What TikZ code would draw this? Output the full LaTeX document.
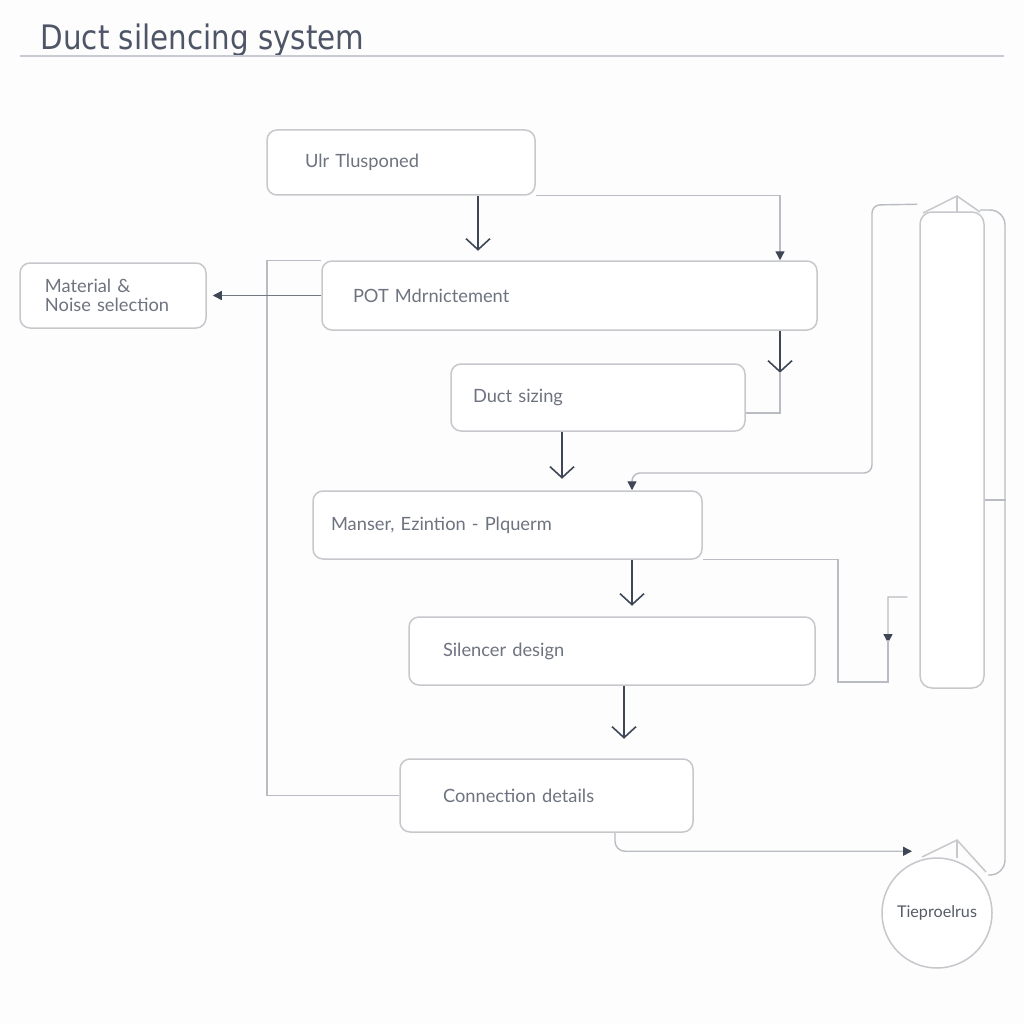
\documentclass[tikz,border=0pt]{standalone}
\usepackage{fontspec}
\setmainfont{Lato}
\newfontfamily\titlefont[FakeStretch=0.87]{DejaVu Sans}
\usetikzlibrary{arrows.meta}
\definecolor{boxc}{HTML}{C6C8CC}
\definecolor{linec}{HTML}{B9BCC2}
\definecolor{arrc}{HTML}{3F4756}
\definecolor{midc}{HTML}{737884}
\definecolor{txtc}{HTML}{6E7380}
\definecolor{titc}{HTML}{4D5566}
\definecolor{rulec}{HTML}{C8CCD2}
\definecolor{bgc}{HTML}{FDFDFD}
\begin{document}
\begin{tikzpicture}[x=0.1mm,y=-0.1mm,
  box/.style={draw=boxc, line width=0.15mm, rounded corners=1mm, fill=white,
    align=left, font=\fontsize{5.2}{5.6}\selectfont, text=txtc, inner ysep=0pt},
  line/.style={draw=linec, line width=0.14mm},
  darr/.style={draw=arrc, line width=0.16mm, -{Straight Barb[length=1.1mm,width=2.4mm]}},
  tipd/.style={-{Triangle[length=0.9mm,width=0.9mm,color=arrc]}},
  capline/.style={draw=boxc, line width=0.15mm}
]
\fill[bgc] (0,0) rectangle (1024,1024);
\useasboundingbox (0,0) rectangle (1024,1024);

% title
\node[anchor=base west, font=\titlefont\fontsize{9.6}{11}\selectfont, text=titc, inner sep=0pt] (title) at (40,50) {Duct silencing system};
\draw[draw=rulec, line width=0.2mm] (20,56) -- (1004,56);

% boxes
\node[box, text width=19.2mm, inner xsep=3.8mm, minimum height=6.5mm] (A) at (401,162.5) {Ulr Tlusponed};
\node[box, text width=43.3mm, inner xsep=3.1mm, minimum height=6.9mm] (B) at (569.5,295.5) {POT Mdrnictement};
\node[box, text width=13.6mm, inner xsep=2.5mm, minimum height=6.5mm] (C) at (113,295.5) {Material \&\\Noise selection};
\node[box, text width=25.0mm, inner xsep=2.2mm, minimum height=6.7mm] (D) at (598,397.5) {Duct sizing};
\node[box, text width=35.3mm, inner xsep=1.8mm, minimum height=6.8mm] (E) at (507.5,525) {Manser, Ezintion - Plquerm};
\node[box, text width=33.8mm, inner xsep=3.4mm, minimum height=6.8mm] (F) at (612,651) {Silencer design};
\node[box, text width=20.7mm, inner xsep=4.3mm, minimum height=7.3mm] (G) at (546.5,795.5) {Connection details};

% column
\node[draw=boxc, line width=0.15mm, rounded corners=1.2mm, minimum width=6.4mm, minimum height=47.6mm, inner sep=0pt, fill=white] (col) at (952,450) {};
\coordinate (colapex) at (957,196);
\draw[capline] (923,213) -- (colapex) -- (980,212);
\draw[capline] (colapex) -- (957,213);

% circle
\node[circle, draw=boxc, line width=0.15mm, minimum size=11mm, inner sep=0pt, fill=white,
  font=\fontsize{4.6}{5.5}\selectfont, text=txtc!80!black] (circ) at (937,913) {Tieproelrus};
\coordinate (circapex) at (957,840);
\draw[capline] (922,857) -- (circapex) -- (986,872);
\draw[capline] (circapex) -- (957,858);

% helper x positions
\coordinate (lx) at (267,0);
\coordinate (rx) at (780,0);

% connectors
\draw[darr] ([xshift=7.7mm]A.south) -- ++(0,55);
\draw[line, tipd] (A.south east) -| ([xshift=21.05mm]B.north);
\draw[line] (G.west) -- (G.west -| lx) -- (lx |- B.north west) -- (B.north west);
\draw[draw=midc, line width=0.14mm, tipd, shorten >=0.6mm] (B.west) -- (C.east);
\draw[darr] ([xshift=21.05mm]B.south) -- ++(0,42);
\draw[line] ([yshift=-1.55mm]D.east) -| (780,372);
\draw[darr] ([xshift=-3.6mm]D.south) -- ++(0,47);
\draw[line, tipd, rounded corners=0.8mm] ([xshift=-0.2mm,yshift=0.7mm]col.north west) -- (872,205) -- (872,473) -| ([xshift=12.45mm]E.north);
\draw[darr] ([xshift=12.45mm]E.south) -- ++(0,46);
\draw[line, tipd] ([xshift=-1.2mm,yshift=-14.7mm]col.west) -- (888,597) -- (888,643);
\draw[line] (888,640) -- (888,682) -- (838,682) |- (E.south east);
\draw[darr] ([xshift=1.2mm]F.south) -- ++(0,53);
\draw[line, tipd, rounded corners=1mm] ([xshift=6.85mm]G.south) |- ([xshift=-2.5mm,yshift=0.6mm]circ.north);
\draw[line, rounded corners=1.5mm] (980,210) -- (1005,210) -- (1005,875) -- (988,875);
\draw[line] ([yshift=-5mm]col.east) -- ++(21,0);
\end{tikzpicture}
\end{document}
